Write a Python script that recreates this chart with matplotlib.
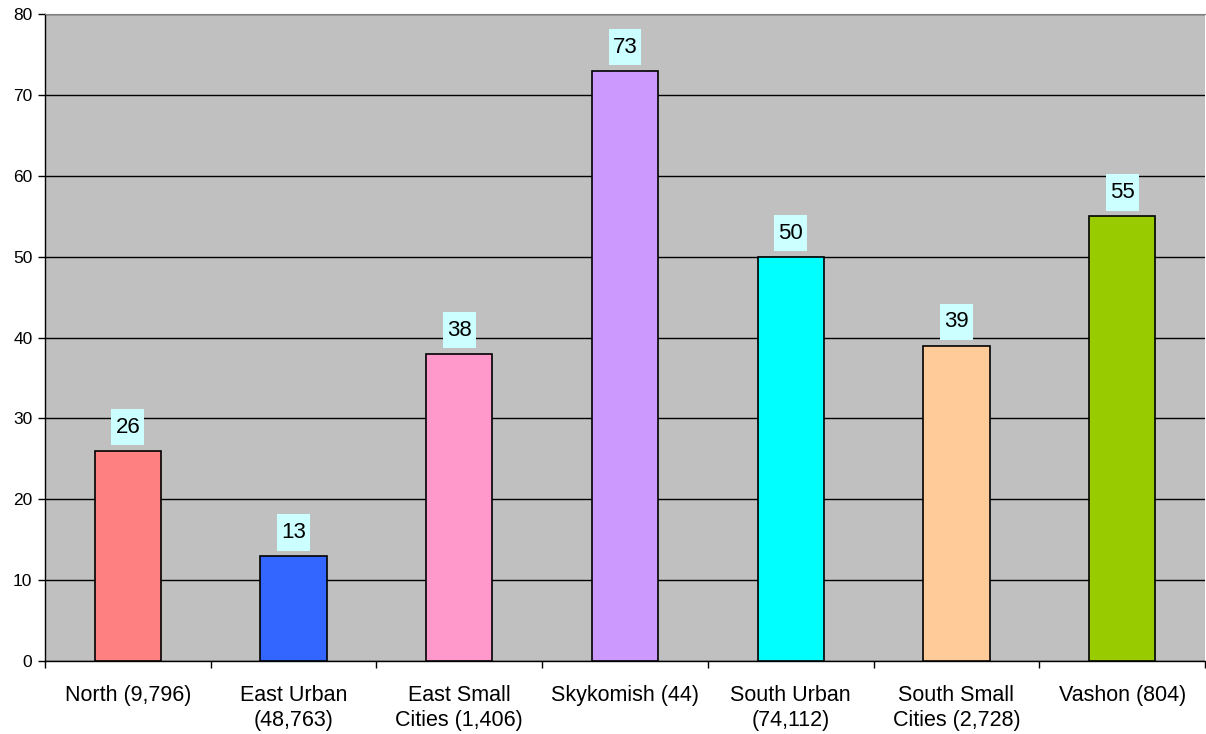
import numpy as np
import matplotlib.pyplot as plt
from matplotlib.path import Path
from matplotlib.ticker import FixedLocator

regions = ["North (9,796)", "East Urban\n(48,763)", "East Small\nCities (1,406)",
           "Skykomish (44)", "South Urban\n(74,112)", "South Small\nCities (2,728)",
           "Vashon (804)"]
values = [26, 13, 38, 73, 50, 39, 55]
colors = ["#FF8080", "#3366FF", "#FF99CC", "#CC99FF", "#00FFFF", "#FFCC99", "#99CC00"]

plt.rcParams["font.family"] = ["Liberation Sans", "DejaVu Sans"]


def label_box(x0, y0, width, height, mutation_size):
    # rectangle with more room above/below the number than at the sides
    px = 0.18 * mutation_size
    py = 0.35 * mutation_size
    x0, x1 = x0 - px, x0 + width + px
    y0, y1 = y0 - py, y0 + height + py
    return Path([(x0, y0), (x1, y0), (x1, y1), (x0, y1), (x0, y0)], closed=True)


fig = plt.figure(figsize=(12.06, 7.34), dpi=100)
ax = fig.add_axes([45 / 1206, 73 / 734, 1160 / 1206, 647 / 734])
ax.set_facecolor("#C0C0C0")

x = np.arange(len(values))
ax.bar(x, values, width=0.4, color=colors, edgecolor="black", linewidth=1.2, zorder=3)

for xi, v in zip(x, values):
    ax.annotate(str(v), (xi, v), xytext=(0, 17), textcoords="offset points",
                ha="center", va="center", fontsize=16, zorder=4,
                bbox=dict(boxstyle=label_box, fc="#CCFFFF", ec="none"))

ax.set_xlim(-0.5, len(values) - 0.5)
ax.set_ylim(0, 80)
ax.set_yticks(np.arange(0, 81, 10))
ax.yaxis.grid(True, color="black", linewidth=1, zorder=1)
ax.set_axisbelow(True)

ax.set_xticks(x)
ax.set_xticklabels(regions, fontsize=15.5, linespacing=1.3)
ax.xaxis.set_minor_locator(FixedLocator(np.arange(-0.5, len(values), 1.0)))
ax.tick_params(axis="x", which="major", length=0, pad=17)
ax.tick_params(axis="x", which="minor", length=5, width=1, direction="out")
ax.tick_params(axis="y", length=5, width=1, direction="out", labelsize=12.5, pad=4)

ax.spines["right"].set_visible(False)
ax.spines["top"].set_color("#808080")
for s in ("left", "bottom"):
    ax.spines[s].set_color("black")
    ax.spines[s].set_linewidth(1)

fig.savefig("out.png", dpi=100)
